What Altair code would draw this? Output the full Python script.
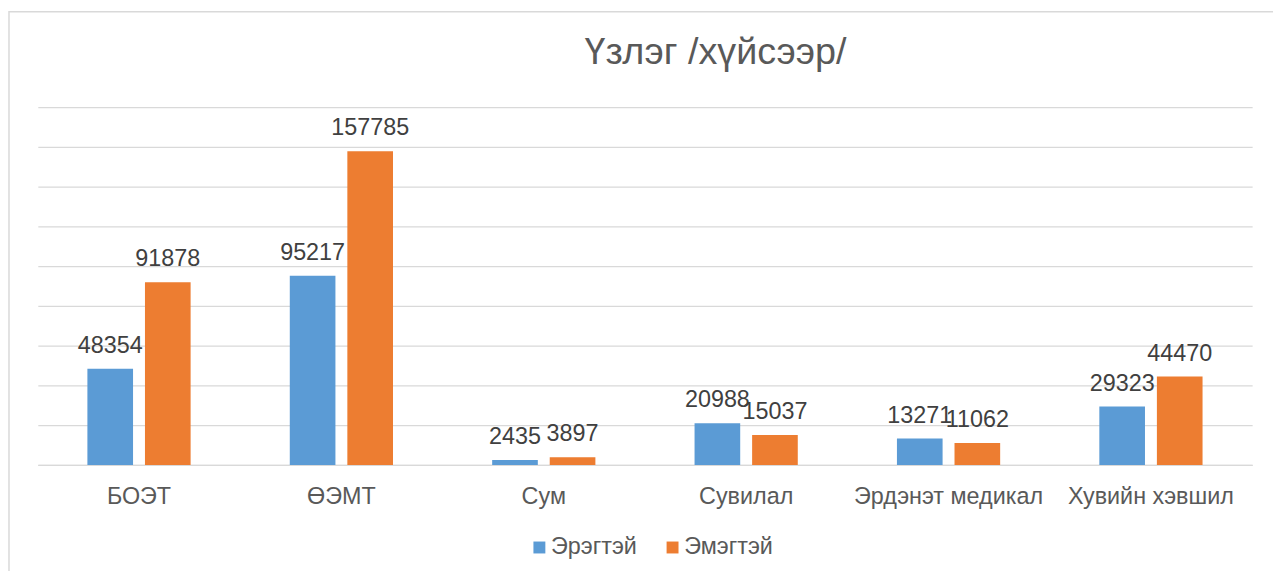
import altair as alt
import pandas as pd

categories = ["БОЭТ", "ӨЭМТ", "Сум", "Сувилал", "Эрдэнэт медикал", "Хувийн хэвшил"]
series = ["Эрэгтэй", "Эмэгтэй"]
male = [48354, 95217, 2435, 20988, 13271, 29323]
female = [91878, 157785, 3897, 15037, 11062, 44470]
grid_values = [0, 20000, 40000, 60000, 80000, 100000, 120000, 140000, 160000, 180000]
colors = ["#5B9BD5", "#ED7D31"]

rows = []
for c, m, f in zip(categories, male, female):
    rows.append({"cat": c, "sex": series[0], "value": m})
    rows.append({"cat": c, "sex": series[1], "value": f})
df = pd.DataFrame(rows)

FONT = "Liberation Sans"

x_enc = alt.X("cat:N", sort=categories,
              scale=alt.Scale(paddingInner=0.49, paddingOuter=0.245),
              axis=alt.Axis(title=None, labelAngle=0, ticks=False, domain=True,
                            domainColor="#d9d9d9", domainWidth=1.3, grid=False,
                            labelFontSize=23.5, labelColor="#595959", labelFont=FONT,
                            labelPadding=20, labelLimit=0))
xo_enc = alt.XOffset("sex:N", sort=series,
                     scale=alt.Scale(domain=series, paddingInner=0.207, paddingOuter=0))
y_enc = alt.Y("value:Q", scale=alt.Scale(domain=[0, 180000], nice=False),
              axis=alt.Axis(values=grid_values, labels=False, ticks=False, domain=False,
                            grid=True, gridColor="#d9d9d9", gridWidth=1.3, title=None))

base = alt.Chart(df)

bars = base.mark_bar().encode(
    x=x_enc, xOffset=xo_enc, y=y_enc,
    color=alt.Color("sex:N", sort=series,
                    scale=alt.Scale(domain=series, range=colors),
                    legend=alt.Legend(title=None, orient="none", direction="horizontal",
                                      legendX=493, legendY=431,
                                      symbolType="square", symbolSize=144,
                                      symbolStrokeWidth=0, labelFontSize=23.5,
                                      labelColor="#595959", labelFont=FONT,
                                      labelOffset=0, columnPadding=24)),
)

labels = base.mark_text(baseline="alphabetic", dy=-16, fontSize=23.5,
                        color="#404040", font=FONT).encode(
    x=x_enc, xOffset=xo_enc, y=y_enc,
    text=alt.Text("value:Q", format="d"),
)

frame = alt.Chart(pd.DataFrame({"a": [0]})).mark_rect(
    fillOpacity=0, stroke="#d9d9d9", strokeWidth=1.5).encode(
    x=alt.value(-29), x2=alt.value(1400), y=alt.value(-96), y2=alt.value(700)
)

chart = alt.layer(frame, bars, labels).properties(
    width=1222, height=360,
    autosize=alt.AutoSizeParams(type="none"),
    padding={"left": 30, "top": 98, "right": 21, "bottom": 105},
    background="white",
    title=alt.TitleParams("Үзлэг /хүйсээр/", fontSize=38, font=FONT,
                          color="#595959", fontWeight="normal", anchor="middle",
                          baseline="middle", offset=-80, dx=71),
).configure_view(stroke=None)

chart.save("out.html", embed_options={"renderer": "svg", "actions": False})
